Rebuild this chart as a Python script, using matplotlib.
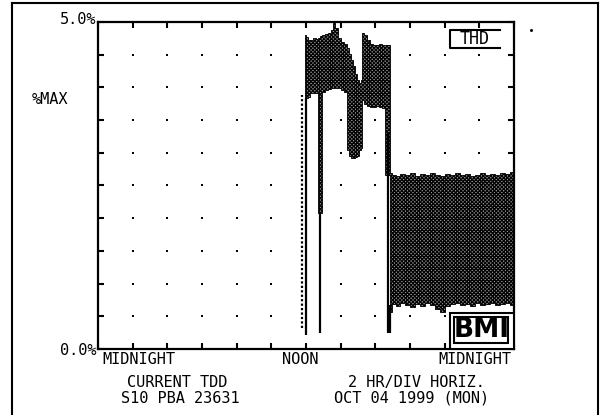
import matplotlib
matplotlib.use("Agg")
import matplotlib.pyplot as plt
import matplotlib.transforms as mtransforms
import numpy as np
from matplotlib.lines import Line2D
from matplotlib.patches import Rectangle

# ---- data: THD envelope over one day (hours since midnight, percent of max) ----
hours = [11.94, 12.00, 12.12, 12.23, 12.40, 12.58, 12.69, 12.81, 12.92, 13.10,
         13.27, 13.44, 13.56, 13.67, 13.85, 14.02, 14.19, 14.37, 14.48, 14.60,
         14.71, 14.83, 14.94, 15.06, 15.17, 15.23, 15.35, 15.52, 15.69, 15.87,
         16.04, 16.21, 16.38, 16.56, 16.73, 16.85, 16.96, 17.19, 17.42, 17.71,
         18.00, 18.29, 18.58, 18.87, 19.15, 19.44, 19.73, 20.02, 20.31, 20.60,
         20.88, 21.17, 21.46, 21.75, 22.04, 22.33, 22.62, 22.90, 23.19, 23.48,
         23.77, 24.00]
thd_high = [4.80, 4.77, 4.72, 4.72, 4.76, 4.74, 4.76, 4.79, 4.80, 4.82,
            4.83, 4.88, 4.98, 4.91, 4.76, 4.69, 4.66, 4.60, 4.51, 4.42,
            4.33, 4.20, 4.11, 4.07, 4.11, 4.83, 4.80, 4.72, 4.66, 4.65,
            4.65, 4.66, 4.65, 4.65, 4.65, 2.69, 2.66, 2.64, 2.68, 2.66,
            2.69, 2.64, 2.68, 2.66, 2.69, 2.66, 2.64, 2.68, 2.66, 2.69,
            2.66, 2.68, 2.64, 2.66, 2.69, 2.66, 2.68, 2.66, 2.69, 2.68,
            2.71, 2.71]
thd_low = [3.84, 3.84, 3.85, 3.91, 3.91, 3.91, 2.08, 2.08, 3.93, 3.96,
           3.98, 3.99, 3.99, 3.99, 3.99, 3.96, 3.93, 3.04, 2.95, 2.92,
           2.92, 2.94, 2.95, 3.04, 3.07, 3.81, 3.75, 3.72, 3.70, 3.70,
           3.72, 3.70, 3.69, 2.66, 2.66, 0.56, 0.69, 0.66, 0.70, 0.67,
           0.64, 0.69, 0.66, 0.70, 0.67, 0.61, 0.56, 0.66, 0.69, 0.70,
           0.67, 0.69, 0.66, 0.70, 0.67, 0.69, 0.70, 0.67, 0.69, 0.70,
           0.67, 0.67]

# short drop-outs reaching toward zero: (hour, top %, bottom %)
dropout_hours = [12.00, 12.81, 16.73, 16.85]
dropout_top = [3.84, 2.08, 3.30, 0.67]
dropout_bottom = [0.21, 0.24, 0.24, 0.24]

# sparse minimum trace just before noon
trace_hour = 11.77
trace_top = 3.88
trace_bottom = 0.32

x_ticks = list(range(0, 25, 2))
x_labels = ["MIDNIGHT"] + [""] * 5 + ["NOON"] + [""] * 5 + ["MIDNIGHT"]
y_ticks = [0.0, 0.5, 1.0, 1.5, 2.0, 2.5, 3.0, 3.5, 4.0, 4.5, 5.0]
y_labels = ["0.0%"] + [""] * 9 + ["5.0%"]

MONO = "DejaVu Sans Mono"
W, H = 600, 415

fig = plt.figure(figsize=(6.0, 4.15), dpi=100)
fig.patch.set_facecolor("white")
plt.rcParams["hatch.linewidth"] = 0.9

ax = fig.add_axes([98 / W, 1 - 349 / H, 416 / W, 327 / H])
ax.set_xlim(0, 24)
ax.set_ylim(0, 5)

for s in ax.spines.values():
    s.set_linewidth(1.6)
    s.set_color("black")

ax.set_xticks(x_ticks)
ax.set_xticklabels(x_labels, fontfamily=MONO, fontsize=11)
ax.set_yticks(y_ticks)
ax.set_yticklabels(y_labels, fontfamily=MONO, fontsize=11)
ax.tick_params(axis="both", direction="in", length=4, width=1.5,
               top=True, right=True, pad=2)
ax.tick_params(axis="y", pad=1)
xl = ax.get_xticklabels()
xl[0].set_ha("left")
xl[-1].set_ha("right")
# nudge the time labels a few pixels
for lab, dx in [(xl[0], 4), (xl[6], -6), (xl[-1], -3)]:
    lab.set_transform(lab.get_transform() +
                      mtransforms.ScaledTranslation(dx / 100, 0, fig.dpi_scale_trans))
yl = ax.get_yticklabels()
yl[-1].set_va("center")
yl[-1].set_transform(yl[-1].get_transform() +
                     mtransforms.ScaledTranslation(0, 2 / 100, fig.dpi_scale_trans))

# dotted grid at every division
gx, gy = np.meshgrid(x_ticks[1:-1], y_ticks[1:-1])
ax.scatter(gx.ravel(), gy.ravel(), s=2.5, marker="s", color="black",
           linewidths=0, zorder=1)

# THD envelope
ax.fill_between(hours, thd_low, thd_high, step="post", facecolor="#9a9a9a",
                edgecolor="black", hatch="x" * 9, linewidth=0.6, zorder=2)
ax.vlines(dropout_hours, dropout_bottom, dropout_top, color="black",
          linewidth=1.6, zorder=3)
ax.vlines([trace_hour], [trace_bottom], [trace_top], color="black",
          linewidth=1.6, linestyles=(0, (1, 1)), zorder=3)

# THD tag (open on the right)
x0, x1, y0, y1 = 0.846, 0.966, 0.920, 0.976
ax.plot([x1, x0, x0, x1], [y1, y1, y0, y0], color="black", linewidth=1.5,
        transform=ax.transAxes, clip_on=False, zorder=4)
ax.text(0.906, 0.948, "THD", transform=ax.transAxes, fontfamily=MONO,
        fontsize=12, ha="center", va="center", zorder=4)

# BMI logo
ax.add_patch(Rectangle((0.846, 0.0), 0.154, 0.110, transform=ax.transAxes,
                       facecolor="white", edgecolor="black", linewidth=1.5,
                       zorder=5))
ax.add_patch(Rectangle((0.856, 0.018), 0.130, 0.080, transform=ax.transAxes,
                       facecolor="white", edgecolor="black", linewidth=1.5,
                       zorder=6))
ax.text(0.921, 0.057, "BMI", transform=ax.transAxes, fontfamily="DejaVu Sans",
        fontweight="bold", fontsize=19, ha="center", va="center", zorder=7)


def fx(px):
    return px / W


def fy(py):
    return 1 - py / H


fig.text(fx(32), fy(100), "%MAX", fontfamily=MONO, fontsize=11,
         ha="left", va="center")
fig.text(fx(177), fy(382), "CURRENT TDD", fontfamily=MONO, fontsize=11,
         ha="center", va="center")
fig.text(fx(180), fy(398), "S10 PBA 23631", fontfamily=MONO, fontsize=11,
         ha="center", va="center")
fig.text(fx(416), fy(382), "2 HR/DIV HORIZ.", fontfamily=MONO, fontsize=11,
         ha="center", va="center")
fig.text(fx(412), fy(398), "OCT 04 1999 (MON)", fontfamily=MONO, fontsize=11,
         ha="center", va="center")

# page frame
for xs, ys in [([12, 12], [H + 5, 3]), ([12, 598], [3, 3]), ([598, 598], [3, H + 5])]:
    fig.add_artist(Line2D([fx(v) for v in xs], [fy(v) for v in ys],
                          color="black", linewidth=1.5))
fig.add_artist(Line2D([fx(531)], [fy(30)], marker="s", markersize=1.0,
                      color="black", linestyle="none"))

fig.savefig("out.png", dpi=100, facecolor="white")
